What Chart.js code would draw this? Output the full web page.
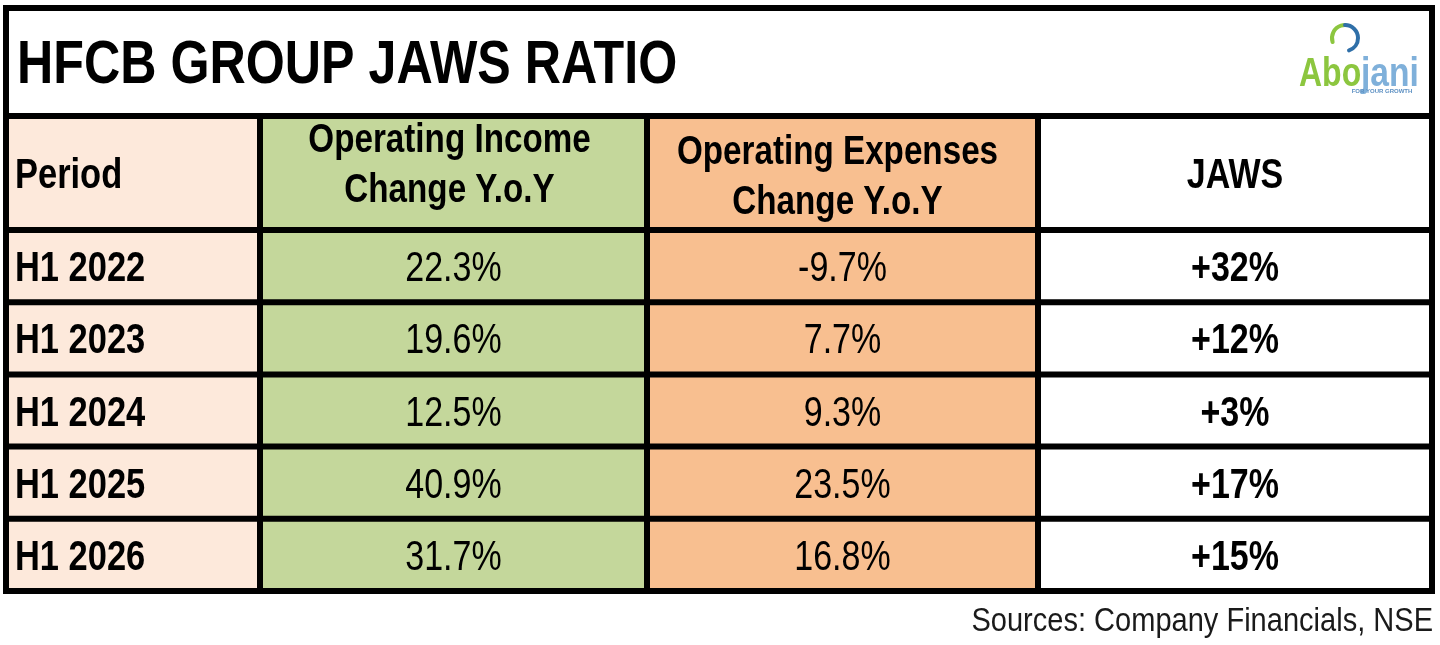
<!DOCTYPE html>
<html><head><meta charset="utf-8">
<script src="https://cdn.jsdelivr.net/npm/chart.js@4.4.1/dist/chart.umd.min.js"></script>
<style>html,body{margin:0;padding:0;background:#fff;overflow:hidden}</style>
</head><body>
<canvas id="c" width="1440" height="645"></canvas>
<script>
// ---- data ----
const title = 'HFCB GROUP JAWS RATIO';
const source = 'Sources: Company Financials, NSE';
const periodHeader = 'Period';
const incomeHeader = ['Operating Income', 'Change Y.o.Y'];
const expenseHeader = ['Operating Expenses', 'Change Y.o.Y'];
const jawsHeader = 'JAWS';
const periods = ['H1 2022', 'H1 2023', 'H1 2024', 'H1 2025', 'H1 2026'];
const incomeChange = [22.3, 19.6, 12.5, 40.9, 31.7];
const expenseChange = [-9.7, 7.7, 9.3, 23.5, 16.8];
const jaws = [32, 12, 3, 17, 15];

// ---- layout / style ----
const colWidths = [254, 387, 391, 394];
const colFills = ['#FDE9DB', '#C4D79B', '#F8BF90', '#FFFFFF'];
const edges = colWidths.reduce((a, w) => { a.push(a[a.length - 1] + w); return a; }, [0]);
const TABLE_TOP = 8, HEADER_TOP = 116, LINE = 6;
const FONT = '"Liberation Sans", Arial, Helvetica, sans-serif';

function txt(ctx, s, x, yBase, size, weight, align, sx, color) {
  ctx.save();
  ctx.font = weight + ' ' + size + 'px ' + FONT;
  ctx.fillStyle = color || '#000';
  ctx.textBaseline = 'alphabetic';
  ctx.textAlign = 'left';
  const w = ctx.measureText(s).width * sx;
  const left = align === 'center' ? x - w / 2 : align === 'right' ? x - w : x;
  ctx.translate(left, yBase);
  ctx.scale(sx, 1);
  ctx.fillText(s, 0, 0);
  ctx.restore();
}

const tablePlugin = {
  id: 'tablePlugin',
  beforeDatasetsDraw(chart) {
    const ctx = chart.ctx, xs = chart.scales.x, ca = chart.chartArea;
    for (let i = 0; i < colWidths.length; i++) {
      const x0 = xs.getPixelForValue(edges[i]), x1 = xs.getPixelForValue(edges[i + 1]);
      ctx.fillStyle = colFills[i];
      ctx.fillRect(x0, HEADER_TOP, x1 - x0, ca.top - HEADER_TOP);
    }
  },
  afterDatasetsDraw(chart) {
    const ctx = chart.ctx, xs = chart.scales.x, ca = chart.chartArea;
    const meta = chart.getDatasetMeta(0).data;
    const SX = 0.81;
    const cap = s => 0.716 * s / 2;
    const colX = i => xs.getPixelForValue(edges[i]);
    const colC = i => (colX(i) + colX(i + 1)) / 2;

    // title
    txt(ctx, title, 17, 83, 62, 'bold', 'left', 0.81);

    // header texts
    const hc = (HEADER_TOP + ca.top) / 2;
    txt(ctx, periodHeader, colX(0) + 9, hc + cap(42), 42, 'bold', 'left', 0.82);
    txt(ctx, incomeHeader[0], colC(1) - 4, HEADER_TOP + 36, 41, 'bold', 'center', SX);
    txt(ctx, incomeHeader[1], colC(1) - 4, HEADER_TOP + 86, 41, 'bold', 'center', SX);
    txt(ctx, expenseHeader[0], colC(2) - 5, HEADER_TOP + 48, 41, 'bold', 'center', SX);
    txt(ctx, expenseHeader[1], colC(2) - 5, HEADER_TOP + 98, 41, 'bold', 'center', SX);
    txt(ctx, jawsHeader, colC(3), hc + cap(42), 42, 'bold', 'center', SX);

    // body texts
    meta.forEach((el, i) => {
      const yb = el.y + cap(42);
      txt(ctx, periods[i], colX(0) + 9, yb, 42, 'bold', 'left', 0.82);
      txt(ctx, incomeChange[i].toFixed(1) + '%', colC(1), yb, 42, 'normal', 'center', SX);
      txt(ctx, expenseChange[i].toFixed(1) + '%', colC(2), yb, 42, 'normal', 'center', SX);
      txt(ctx, (jaws[i] >= 0 ? '+' : '') + jaws[i] + '%', colC(3), yb, 42, 'bold', 'center', SX);
    });

    // grid lines
    ctx.save();
    ctx.strokeStyle = '#000';
    ctx.lineWidth = LINE;
    ctx.beginPath();
    for (let i = 1; i < colWidths.length; i++) {
      const x = colX(i);
      ctx.moveTo(x, HEADER_TOP); ctx.lineTo(x, ca.bottom);
    }
    ctx.moveTo(ca.left, HEADER_TOP); ctx.lineTo(ca.right, HEADER_TOP);
    meta.forEach(el => {
      const y = el.y - el.height / 2;
      ctx.moveTo(ca.left, y); ctx.lineTo(ca.right, y);
    });
    ctx.stroke();
    ctx.strokeRect(ca.left, TABLE_TOP, ca.right - ca.left, ca.bottom - TABLE_TOP);
    ctx.restore();

    // logo
    ctx.save();
    ctx.lineCap = 'round';
    ctx.lineWidth = 4;
    ctx.strokeStyle = '#8CC63F';
    ctx.beginPath(); ctx.arc(1345, 38, 13, Math.PI * 0.9, Math.PI * 1.5); ctx.stroke();
    ctx.strokeStyle = '#2F6FA8';
    ctx.beginPath(); ctx.arc(1345, 38, 13, Math.PI * 1.5, Math.PI * 2.4); ctx.stroke();
    ctx.restore();
    txt(ctx, 'Abo', 1299, 86, 40, 'bold', 'left', 0.8, '#8CC63F');
    txt(ctx, 'jani', 1361, 86, 40, 'bold', 'left', 0.84, '#7FB0DA');
    txt(ctx, 'FOR YOUR GROWTH', 1382, 93, 6, 'bold', 'center', 1.0, '#5B8FC2');

    // source
    txt(ctx, source, 1433, 631, 33, 'normal', 'right', 0.88, '#1a1a1a');
  }
};

new Chart(document.getElementById('c'), {
  type: 'bar',
  data: {
    labels: periods,
    datasets: colWidths.map((w, i) => ({
      label: 'col' + i,
      data: periods.map(() => [edges[i], edges[i + 1]]),
      backgroundColor: colFills[i],
      borderWidth: 0,
      barPercentage: 1,
      categoryPercentage: 1,
      grouped: false
    }))
  },
  options: {
    indexAxis: 'y',
    responsive: false,
    animation: false,
    devicePixelRatio: 1,
    layout: { padding: { left: 6, right: 8, top: 230, bottom: 54 } },
    plugins: { legend: { display: false }, tooltip: { enabled: false } },
    scales: {
      x: { type: 'linear', display: false, min: 0, max: edges[edges.length - 1] },
      y: { type: 'category', display: false }
    }
  },
  plugins: [tablePlugin]
});
</script>
</body></html>
